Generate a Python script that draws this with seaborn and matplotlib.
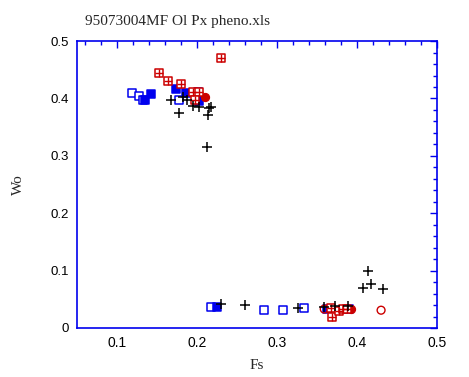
import numpy as np
import pandas as pd
import matplotlib
matplotlib.use('Agg')
import matplotlib.pyplot as plt
from matplotlib.ticker import MultipleLocator
import seaborn as sns

sns.set_style('white')
plt.rcParams['font.family'] = ['Liberation Serif', 'DejaVu Serif']
plt.rc('font', size=11)

# blue open squares
opx_fs = [0.119, 0.128, 0.132, 0.178, 0.217, 0.284, 0.308, 0.334]
opx_wo = [0.409, 0.404, 0.398, 0.397, 0.037, 0.032, 0.031, 0.035]
# blue filled squares
cpx_fs = [0.143, 0.135, 0.174, 0.186, 0.201, 0.202, 0.225, 0.362, 0.390]
cpx_wo = [0.408, 0.397, 0.416, 0.409, 0.412, 0.395, 0.037, 0.033, 0.033]
# red boxed crosses
ph_fs = [0.230, 0.153, 0.164, 0.180, 0.195, 0.203, 0.197, 0.367, 0.369, 0.377, 0.383, 0.387]
ph_wo = [0.470, 0.445, 0.431, 0.426, 0.411, 0.412, 0.398, 0.034, 0.020, 0.030, 0.033, 0.033]
# red open circles
oc_fs = [0.359, 0.430]
oc_wo = [0.033, 0.031]
# red filled circles
fc_fs = [0.210, 0.393]
fc_wo = [0.402, 0.033]
# black plus
pl_fs = [0.182, 0.168, 0.178, 0.188, 0.195, 0.202, 0.215, 0.218, 0.214, 0.212,
         0.230, 0.260, 0.326, 0.359, 0.373, 0.389, 0.414, 0.408, 0.418, 0.433]
pl_wo = [0.402, 0.397, 0.374, 0.397, 0.387, 0.385, 0.383, 0.386, 0.372, 0.315,
         0.041, 0.040, 0.034, 0.037, 0.038, 0.038, 0.099, 0.069, 0.077, 0.068]

def frame(fs, wo):
    return pd.DataFrame({'Fs': fs, 'Wo': wo})

fig = plt.figure(figsize=(4.69, 3.77), dpi=100)
ax = fig.add_axes([0.164, 0.130, 0.768, 0.761])

blue = '#0000ee'
red = '#cc0000'

sns.scatterplot(data=frame(opx_fs, opx_wo), x='Fs', y='Wo', marker='s', s=34,
                facecolor='white', edgecolor=blue, linewidth=1.1, ax=ax, zorder=3)
sns.scatterplot(data=frame(cpx_fs, cpx_wo), x='Fs', y='Wo', marker='s', s=34,
                color=blue, edgecolor=blue, linewidth=1.1, ax=ax, zorder=3)
sns.scatterplot(data=frame(oc_fs, oc_wo), x='Fs', y='Wo', marker='o', s=32,
                facecolor='none', edgecolor=red, linewidth=1.0, ax=ax, zorder=4)
sns.scatterplot(data=frame(fc_fs, fc_wo), x='Fs', y='Wo', marker='o', s=32,
                color=red, edgecolor=red, linewidth=1.0, ax=ax, zorder=4)
sns.scatterplot(data=frame(ph_fs, ph_wo), x='Fs', y='Wo', marker='s', s=38,
                facecolor='white', edgecolor=red, linewidth=1.1, ax=ax, zorder=5)
sns.scatterplot(data=frame(ph_fs, ph_wo), x='Fs', y='Wo', marker='+', s=38,
                color=red, linewidth=1.0, ax=ax, zorder=6)
sns.scatterplot(data=frame(pl_fs, pl_wo), x='Fs', y='Wo', marker='+', s=50,
                color='black', linewidth=1.1, ax=ax, zorder=7)

ax.set_xlim(0.05, 0.5)
ax.set_ylim(0, 0.5)
ax.xaxis.set_minor_locator(MultipleLocator(0.02))
ax.yaxis.set_minor_locator(MultipleLocator(0.02))
ax.set_xticks([0.1, 0.2, 0.3, 0.4, 0.5])
ax.set_xticklabels(['0.1', '0.2', '0.3', '0.4', '0.5'], family='Liberation Sans', fontsize=10)
ax.set_yticks([0, 0.1, 0.2, 0.3, 0.4, 0.5])
ax.set_yticklabels(['0', '0.1', '0.2', '0.3', '0.4', '0.5'], family='Liberation Sans', fontsize=9.5)
ax.tick_params(which='both', direction='in', top=True, right=True, color=blue,
               labelcolor='black')
ax.tick_params(which='major', length=5, width=1, pad=6)
ax.tick_params(which='minor', length=3, width=1)
for sp in ax.spines.values():
    sp.set_color(blue)
    sp.set_linewidth(1.2)

ax.set_xlabel('Fs', fontsize=11, labelpad=6)
ax.set_ylabel('Wo', fontsize=11, labelpad=18)
fig.text(0.181, 0.942, '95073004MF Ol Px pheno.xls', fontsize=11, ha='left', va='center')

fig.savefig('out.png', dpi=100)
